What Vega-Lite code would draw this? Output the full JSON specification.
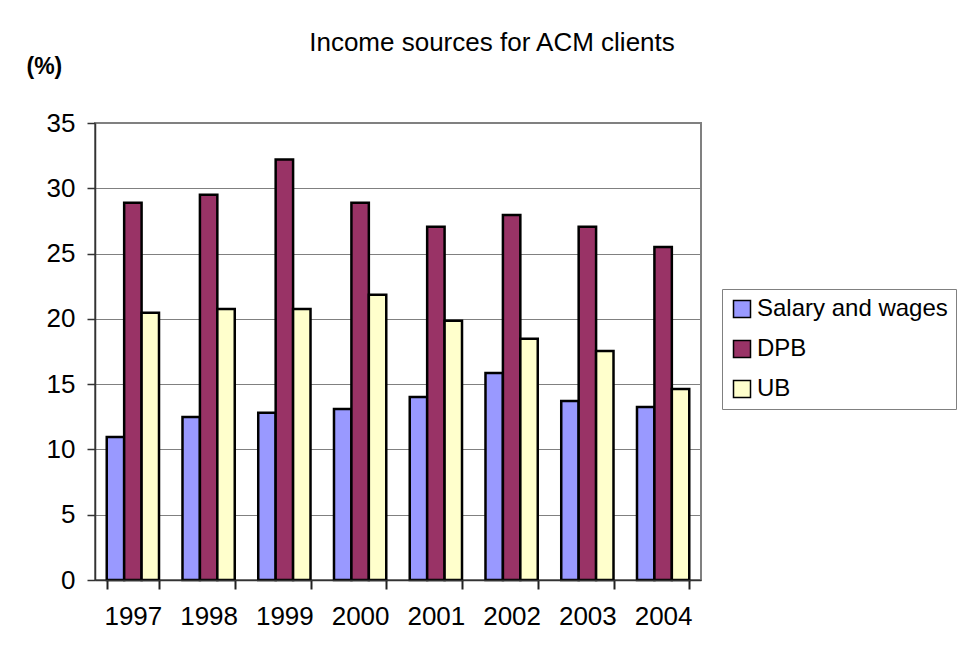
{
  "$schema": "https://vega.github.io/schema/vega-lite/v6.json",
  "autosize": {"type": "none"},
  "padding": {"left": 95, "top": 123, "right": 265, "bottom": 82},
  "width": 606,
  "height": 457,
  "background": "white",
  "title": {
    "text": "Income sources for ACM clients",
    "font": "Liberation Sans",
    "fontSize": 26,
    "fontWeight": "normal",
    "color": "black",
    "anchor": "middle",
    "dx": 94,
    "dy": 5
  },
  "data": {
    "values": [
      {"year": "1997", "source": "Salary and wages", "pct": 10.95},
      {"year": "1997", "source": "DPB", "pct": 28.9},
      {"year": "1997", "source": "UB", "pct": 20.47},
      {"year": "1998", "source": "Salary and wages", "pct": 12.48},
      {"year": "1998", "source": "DPB", "pct": 29.5},
      {"year": "1998", "source": "UB", "pct": 20.75},
      {"year": "1999", "source": "Salary and wages", "pct": 12.81},
      {"year": "1999", "source": "DPB", "pct": 32.2},
      {"year": "1999", "source": "UB", "pct": 20.75},
      {"year": "2000", "source": "Salary and wages", "pct": 13.09},
      {"year": "2000", "source": "DPB", "pct": 28.9},
      {"year": "2000", "source": "UB", "pct": 21.85},
      {"year": "2001", "source": "Salary and wages", "pct": 14.01},
      {"year": "2001", "source": "DPB", "pct": 27.05},
      {"year": "2001", "source": "UB", "pct": 19.86},
      {"year": "2002", "source": "Salary and wages", "pct": 15.85},
      {"year": "2002", "source": "DPB", "pct": 27.95},
      {"year": "2002", "source": "UB", "pct": 18.48},
      {"year": "2003", "source": "Salary and wages", "pct": 13.7},
      {"year": "2003", "source": "DPB", "pct": 27.05},
      {"year": "2003", "source": "UB", "pct": 17.53},
      {"year": "2004", "source": "Salary and wages", "pct": 13.25},
      {"year": "2004", "source": "DPB", "pct": 25.5},
      {"year": "2004", "source": "UB", "pct": 14.62}
    ]
  },
  "mark": {"type": "bar", "stroke": "black", "strokeWidth": 2.5},
  "encoding": {
    "x": {
      "field": "year",
      "type": "nominal",
      "scale": {"paddingInner": 0.31, "paddingOuter": 0.155},
      "axis": {
        "title": null,
        "labelAngle": 0,
        "labelFont": "Liberation Sans",
        "labelFontSize": 26,
        "labelColor": "black",
        "labelPadding": 14,
        "ticks": true,
        "tickBand": "extent",
        "tickSize": 9,
        "tickColor": "#222222",
        "tickWidth": 2,
        "domainColor": "#333333",
        "domainWidth": 1.5,
        "grid": false,
        "zindex": 1
      }
    },
    "xOffset": {
      "field": "source",
      "type": "nominal",
      "sort": ["Salary and wages", "DPB", "UB"],
      "scale": {"paddingInner": 0, "paddingOuter": 0}
    },
    "y": {
      "field": "pct",
      "type": "quantitative",
      "scale": {"domain": [0, 35], "nice": false},
      "axis": {
        "title": "(%)",
        "titleFont": "Liberation Sans",
        "titleFontSize": 23,
        "titleFontWeight": "bold",
        "titleColor": "black",
        "titleAngle": 0,
        "titleAlign": "left",
        "titleBaseline": "alphabetic",
        "titleX": -69,
        "titleY": -50,
        "values": [0, 5, 10, 15, 20, 25, 30, 35],
        "labelFont": "Liberation Sans",
        "labelFontSize": 26,
        "labelColor": "black",
        "labelPadding": 12,
        "tickSize": 8,
        "tickColor": "#333333",
        "tickWidth": 1.5,
        "domainColor": "#333333",
        "domainWidth": 1.5,
        "grid": true,
        "gridColor": "#808080",
        "gridWidth": 1.2
      }
    },
    "color": {
      "field": "source",
      "type": "nominal",
      "sort": ["Salary and wages", "DPB", "UB"],
      "scale": {
        "domain": ["Salary and wages", "DPB", "UB"],
        "range": ["#9999FF", "#993366", "#FFFFCC"]
      },
      "legend": {
        "title": null,
        "orient": "none",
        "legendX": 627,
        "legendY": 166,
        "padding": 8,
        "strokeColor": "#808080",
        "fillColor": "white",
        "symbolType": "square",
        "symbolSize": 289,
        "symbolStrokeColor": "black",
        "symbolStrokeWidth": 1.5,
        "symbolOpacity": 1,
        "labelFont": "Liberation Sans",
        "labelFontSize": 24,
        "labelColor": "black",
        "labelOffset": 3,
        "labelLimit": 0,
        "rowPadding": 16
      }
    }
  },
  "config": {
    "view": {"stroke": "#808080", "strokeWidth": 2},
    "axisBand": {"ticks": true, "tickBand": "extent"}
  }
}
